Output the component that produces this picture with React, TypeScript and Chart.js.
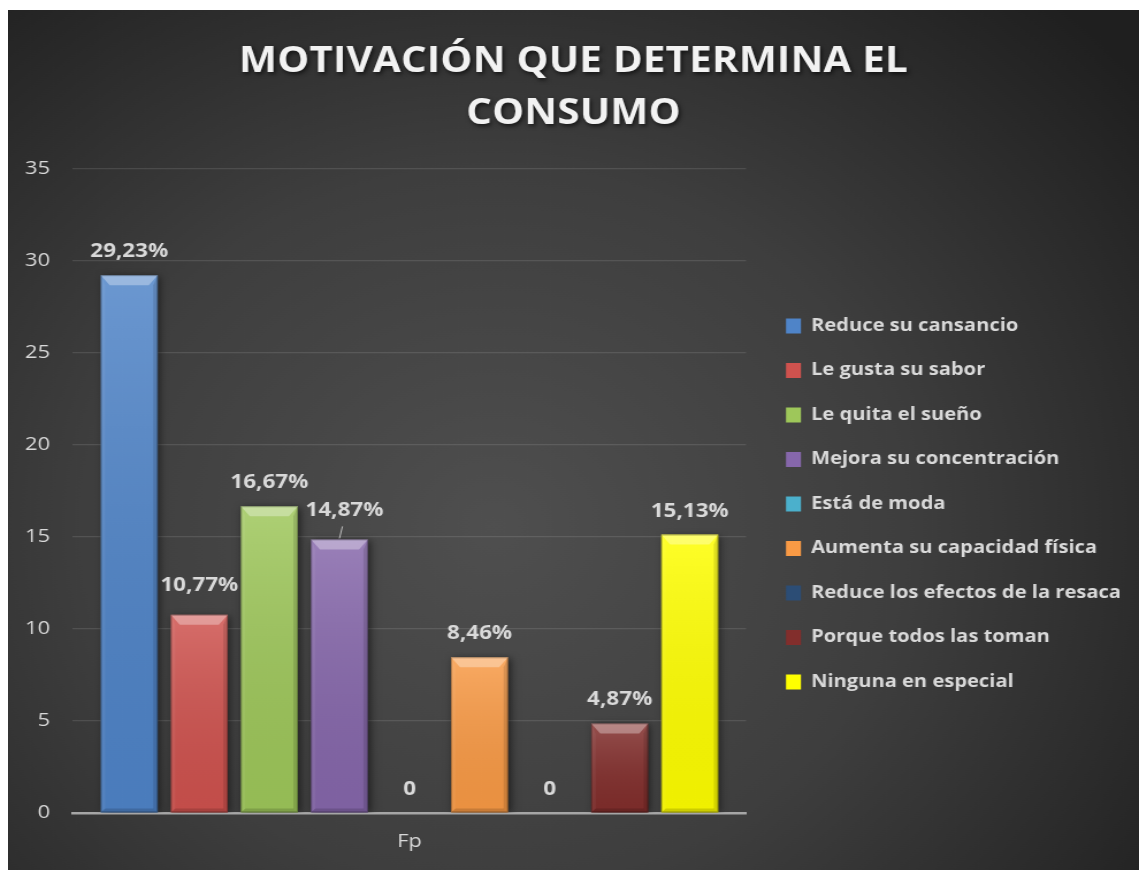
import React, { useEffect, useRef } from 'react';
import { Chart, registerables } from 'chart.js';

Chart.register(...registerables);

// ---------- data ----------
const TITLE_LINES = ['MOTIVACIÓN QUE DETERMINA EL', 'CONSUMO'];
const CATEGORIES = ['Fp'];
const SERIES_LABELS = [
  'Reduce su cansancio',
  'Le gusta su sabor',
  'Le quita el sueño',
  'Mejora su concentración',
  'Está de moda',
  'Aumenta su capacidad física',
  'Reduce los efectos de la resaca',
  'Porque todos las toman',
  'Ninguna en especial',
];
const SERIES_VALUES = [29.23, 10.77, 16.67, 14.87, 0, 8.46, 0, 4.87, 15.13];
const SERIES_COLORS = [
  '#4f84c8',
  '#cf524e',
  '#9ec75a',
  '#8667ab',
  '#4bb0cc',
  '#f99a45',
  '#2c4d75',
  '#822e2c',
  '#ffff00',
];
const Y_MIN = 0;
const Y_MAX = 35;
const Y_STEP = 5;
// small label placement tweaks (page px) for labels moved off their default spot
const LABEL_NUDGE_X = [0, 0, 0, 5, 0, 0, 0, 0, 0];
const LABEL_NUDGE_Y = [0, -6, 0, -5, 0, 0, 0, 0, 0];

// ---------- layout ----------
const STRETCH = 1.15;
const OUT_W = 1131;
const OUT_H = 860;
const CANVAS_W = Math.round(OUT_W / STRETCH);
const SX = OUT_W / CANVAS_W;
const FONT = "'Open Sans', 'Noto Sans', sans-serif";
const TEXT = '#d9d9d9';
const PLOT_LEFT = 65 / SX;
const PLOT_RIGHT = 738 / SX;
const PLOT_TOP = 159;
const LEGEND_FONT = 17.5;
const LEGEND_PAD = 27;
const LEGEND_BOX_W = 13;
const LEGEND_BOX_H = 15;
const LEGEND_X = 778 / SX;
const LEGEND_FIRST_ROW_CENTER = 316;

const fmt = (v: number) => (v === 0 ? '0' : v.toFixed(2).replace('.', ',') + '%');

const decorPlugin = {
  id: 'decor',
  beforeDraw(chart: any) {
    const { ctx, width, height } = chart;
    ctx.save();
    const cx = width * 0.43;
    const cy = height * 0.6;
    const g = ctx.createRadialGradient(cx, cy, 0, cx, cy, 720);
    g.addColorStop(0, '#4f4f4f');
    g.addColorStop(0.5, '#3e3e3e');
    g.addColorStop(1, '#1f1f1f');
    ctx.fillStyle = g;
    ctx.fillRect(0, 0, width, height);
    ctx.restore();
  },
  afterLayout(chart: any) {
    const lg = chart.legend;
    if (!lg) return;
    const dx = LEGEND_X - (lg.left + LEGEND_PAD);
    lg.left += dx;
    lg.right += dx;
    if (lg.columnSizes && lg.columnSizes[0]) {
      const curY = (lg.top + LEGEND_PAD + lg.bottom - lg.columnSizes[0].height) / 2;
      const itemH = Math.max(LEGEND_FONT, LEGEND_BOX_H);
      const dy = LEGEND_FIRST_ROW_CENTER - itemH / 2 - curY;
      lg.top += dy;
      lg.bottom += dy;
    }
  },
  beforeDatasetsDraw(chart: any) {
    const ctx = chart.ctx;
    ctx.save();
    ctx.shadowColor = 'rgba(0,0,0,0.55)';
    ctx.shadowBlur = 7;
    ctx.shadowOffsetX = 2;
    ctx.shadowOffsetY = 1;
  },
  afterDatasetsDraw(chart: any) {
    const ctx = chart.ctx;
    ctx.restore();
    chart.data.datasets.forEach((ds: any, i: number) => {
      const meta = chart.getDatasetMeta(i);
      meta.data.forEach((el: any, j: number) => {
        const v = ds.data[j];
        const { x, y, base, width } = el.getProps(['x', 'y', 'base', 'width'], true);
        const l = x - width / 2;
        const r = x + width / 2;
        const t = y;
        const b = base;
        if (b - t > 2) {
          const bx = 9 / SX;
          const by = Math.min(10, (b - t) / 2);
          ctx.save();
          const lg = ctx.createLinearGradient(0, t, 0, b);
          lg.addColorStop(0, 'rgba(255,255,255,0.16)');
          lg.addColorStop(1, 'rgba(0,0,0,0.06)');
          ctx.fillStyle = lg;
          ctx.fillRect(l, t, r - l, b - t);
          ctx.fillStyle = 'rgba(255,255,255,0.32)';
          ctx.beginPath();
          ctx.moveTo(l, t);
          ctx.lineTo(r, t);
          ctx.lineTo(r - bx, t + by);
          ctx.lineTo(l + bx, t + by);
          ctx.closePath();
          ctx.fill();
          ctx.fillStyle = 'rgba(255,255,255,0.05)';
          ctx.beginPath();
          ctx.moveTo(l, t);
          ctx.lineTo(l + bx * 0.5, t + by);
          ctx.lineTo(l + bx * 0.5, b - 4);
          ctx.lineTo(l, b);
          ctx.closePath();
          ctx.fill();
          ctx.fillStyle = 'rgba(0,0,0,0.12)';
          ctx.beginPath();
          ctx.moveTo(r, t);
          ctx.lineTo(r - bx * 0.5, t + by);
          ctx.lineTo(r - bx * 0.5, b - 4);
          ctx.lineTo(r, b);
          ctx.closePath();
          ctx.fill();
          ctx.fillStyle = 'rgba(0,0,0,0.15)';
          ctx.beginPath();
          ctx.moveTo(l, b);
          ctx.lineTo(r, b);
          ctx.lineTo(r - bx * 0.5, b - 4);
          ctx.lineTo(l + bx * 0.5, b - 4);
          ctx.closePath();
          ctx.fill();
          ctx.strokeStyle = 'rgba(0,0,0,0.25)';
          ctx.lineWidth = 1;
          ctx.strokeRect(l + 0.5, t + 0.5, r - l - 1, b - t - 1);
          ctx.restore();
        }
        const lx = x + LABEL_NUDGE_X[i] / SX;
        const ly = t - 18 + LABEL_NUDGE_Y[i];
        ctx.save();
        ctx.font = `bold 19.5px ${FONT}`;
        ctx.fillStyle = TEXT;
        ctx.textAlign = 'center';
        ctx.textBaseline = 'alphabetic';
        ctx.fillText(fmt(v), lx, ly);
        if (LABEL_NUDGE_Y[i] !== 0 && LABEL_NUDGE_X[i] !== 0) {
          ctx.strokeStyle = '#bfbfbf';
          ctx.lineWidth = 1;
          ctx.beginPath();
          ctx.moveTo(x + 3 / SX, t - 13);
          ctx.lineTo(x, t - 1);
          ctx.stroke();
        }
        ctx.restore();
      });
    });
  },
  afterDraw(chart: any) {
    const { ctx, width } = chart;
    ctx.save();
    ctx.font = `bold 35px ${FONT}`;
    try {
      (ctx as any).letterSpacing = '0.2px';
    } catch (e) {}
    ctx.textAlign = 'center';
    ctx.textBaseline = 'alphabetic';
    ctx.fillStyle = '#f2f2f2';
    ctx.shadowColor = 'rgba(0,0,0,0.65)';
    ctx.shadowBlur = 4;
    ctx.shadowOffsetX = 1.5;
    ctx.shadowOffsetY = 2;
    TITLE_LINES.forEach((line, i) => ctx.fillText(line, width / 2, 62 + i * 52));
    ctx.restore();
  },
};

export default function App() {
  const canvasRef = useRef<HTMLCanvasElement | null>(null);

  useEffect(() => {
    const canvas = canvasRef.current;
    if (!canvas) return;

    const m = document.createElement('canvas').getContext('2d')!;
    m.font = `bold ${LEGEND_FONT}px ${FONT}`;
    const longest = Math.max(...SERIES_LABELS.map((s) => m.measureText(s).width));
    const legendW = LEGEND_PAD + LEGEND_BOX_W + LEGEND_FONT / 2 + longest + 10;
    const padRight = Math.max(0, CANVAS_W - PLOT_RIGHT - legendW);

    const chart = new Chart(canvas, {
      type: 'bar',
      data: {
        labels: CATEGORIES,
        datasets: SERIES_LABELS.map((label, i) => ({
          label,
          data: [SERIES_VALUES[i]],
          backgroundColor: SERIES_COLORS[i],
          borderWidth: 0,
          categoryPercentage: 0.937,
          barPercentage: 0.814,
        })),
      },
      options: {
        responsive: false,
        devicePixelRatio: 1,
        animation: false,
        layout: {
          padding: { top: PLOT_TOP, left: 0, right: padRight, bottom: 0 },
        },
        plugins: {
          title: { display: false },
          tooltip: { enabled: false },
          legend: {
            position: 'right',
            align: 'center',
            maxWidth: 600,
            labels: {
              color: TEXT,
              font: { family: FONT, size: LEGEND_FONT, weight: 'bold' },
              boxWidth: LEGEND_BOX_W,
              boxHeight: LEGEND_BOX_H,
              padding: LEGEND_PAD,
            },
          },
        },
        scales: {
          x: {
            z: 1,
            grid: { display: false, drawTicks: false },
            border: { display: true, color: '#a6a6a6', width: 2.5 },
            ticks: { color: TEXT, font: { family: FONT, size: 19, lineHeight: 1.0 }, padding: 19 },
          },
          y: {
            min: Y_MIN,
            max: Y_MAX,
            ticks: { stepSize: Y_STEP, color: TEXT, font: { family: FONT, size: 19 }, padding: 20 },
            grid: { color: 'rgba(255,255,255,0.11)', lineWidth: 1.2, drawTicks: false },
            border: { display: false },
            afterFit: (s: any) => {
              s.width = PLOT_LEFT;
            },
          },
        },
      },
      plugins: [decorPlugin],
    } as any);

    return () => chart.destroy();
  }, []);

  return (
    <div style={{ position: 'absolute', left: 8, top: 10, width: OUT_W, height: OUT_H }}>
      <canvas
        ref={canvasRef}
        width={CANVAS_W}
        height={OUT_H}
        style={{ display: 'block', width: `${OUT_W}px`, height: `${OUT_H}px` }}
      />
    </div>
  );
}
